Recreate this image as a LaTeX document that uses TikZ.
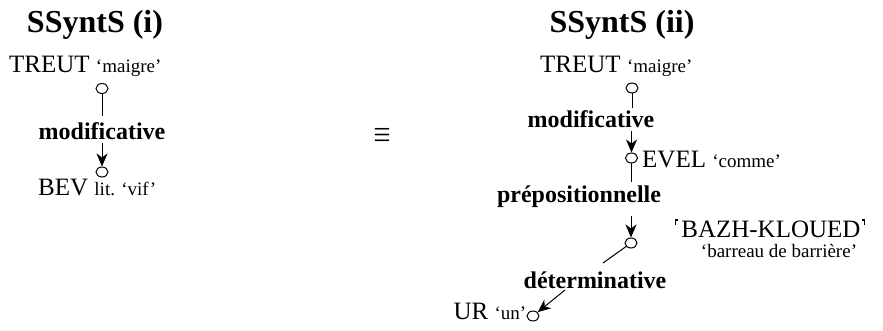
\documentclass[tikz,border=0pt]{standalone}
\usepackage{fontspec}
\setmainfont{Liberation Serif}
\usetikzlibrary{arrows.meta,shapes.geometric}
\newcommand\lcornmark{\rlap{\raisebox{0.66em}{\rule{0.12em}{0.045em}}}\raisebox{0.5em}{\rule{0.045em}{0.2em}}\hspace{0.2em}}
\newcommand\rcornmark{\hspace{0.08em}\rlap{\raisebox{0.66em}{\rule{0.12em}{0.045em}}}\hspace{0.075em}\raisebox{0.5em}{\rule{0.045em}{0.2em}}}
\tikzset{
  word/.style={inner sep=0pt, font=\fontsize{25}{30}\selectfont},
  gloss/.style={inner sep=0pt, font=\fontsize{19}{23}\selectfont},
  rel/.style={inner sep=0pt, font=\fontsize{24}{28}\selectfont\bfseries},
  ttl/.style={inner sep=0pt, font=\fontsize{32}{36}\selectfont\bfseries},
  knot/.style={draw, ellipse, line width=1pt, minimum width=12pt, minimum height=10pt, inner sep=0pt},
  link/.style={line width=1pt},
  arr/.style={line width=1pt, -{Stealth[length=13pt,width=11pt,inset=4pt]}}
}
\begin{document}
\begin{tikzpicture}[x=1pt,y=-1pt]
\useasboundingbox (0,0) rectangle (883,331);
% left structure
\node[ttl, anchor=base] (t1) at (95,33) {SSyntS (i)};
\node[word, anchor=base west] (treut1) at (9,73) {TREUT {\fontsize{19}{23}\selectfont ‘maigre’}};
\node[knot] (c1) at (102,88.5) {};
\node[rel, anchor=base] (mod1) at (102,140) {modificative};
\node[knot] (c1b) at (102,172) {};
\node[word, anchor=base west] (bev) at (38,196) {BEV {\fontsize{19}{23}\selectfont lit. ‘vif’}};
\draw[link, shorten >=7pt] (c1) -- (c1 |- mod1.north);
\draw[arr, shorten <=3pt] (c1b |- mod1.south) -- (c1b);
% equivalence
\node[inner sep=0pt] (eq) at (382,135) {\resizebox{17pt}{13pt}{\boldmath$\equiv$}};
% right structure
\node[ttl, anchor=base] (t2) at (622,33) {SSyntS (ii)};
\node[word, anchor=base west] (treut2) at (540,73) {TREUT {\fontsize{19}{23}\selectfont ‘maigre’}};
\node[knot] (c2) at (632,88) {};
\node[rel, anchor=base] (mod2) at (591,128) {modificative};
\node[knot] (c3) at (631.5,158) {};
\node[word, anchor=base west] (evel) at (642,168) {EVEL {\fontsize{19}{23}\selectfont ‘comme’}};
\node[rel, anchor=base] (prep) at (579,203) {prépositionnelle};
\node[knot] (c4) at (631,243) {};
\node[word, anchor=base west] (bazh) at (675,237) {\lcornmark BAZH-KLOUED\rcornmark};
\node[gloss, anchor=base] (barreau) at (779,257) {‘barreau de barrière’};
\node[rel, anchor=base] (det) at (595,288) {déterminative};
\node[knot] (c5) at (533,316) {};
\node[word, anchor=base east] (ur) at (c5.west |- 0,319) {UR {\fontsize{19}{23}\selectfont ‘un’}};
\coordinate (detin) at (603,263);
\coordinate (detout) at (565,290);
\draw[link, shorten >=3pt] (c2) -- (c2 |- mod2.north);
\draw[arr, shorten <=3pt] (c3 |- mod2.south) -- (c3);
\draw[link, shorten >=4pt] (c3) -- (c3 |- prep.north);
\draw[arr, shorten <=8pt] (c4 |- prep.south) -- (c4);
\draw[link] (c4) -- (detin);
\draw[arr] (detout) -- (c5);
\end{tikzpicture}
\end{document}
